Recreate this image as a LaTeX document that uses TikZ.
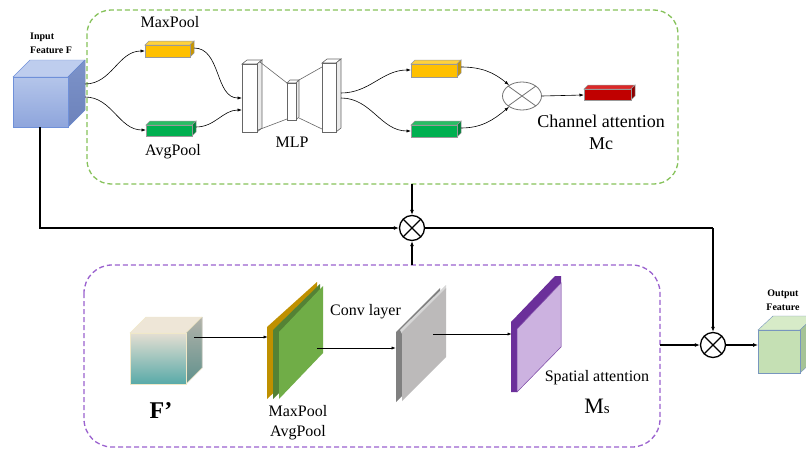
\documentclass[tikz,border=0pt]{standalone}
\usepackage{fontspec}
\setmainfont{Liberation Serif}
\usetikzlibrary{arrows.meta,shapes.geometric}
\definecolor{gdash}{HTML}{86C25A}
\definecolor{pdash}{HTML}{9B62CF}
\definecolor{cubeB}{HTML}{6F90D9}
\definecolor{yelF}{RGB}{255,192,0}
\definecolor{yelT}{RGB}{255,210,60}
\definecolor{yelS}{RGB}{200,150,0}
\definecolor{grnF}{RGB}{0,176,80}
\definecolor{grnT}{RGB}{40,190,100}
\definecolor{grnS}{RGB}{0,130,60}
\definecolor{redF}{RGB}{192,0,0}
\definecolor{redT}{RGB}{220,40,40}
\definecolor{redS}{RGB}{140,0,0}
\definecolor{fEdge}{RGB}{240,232,200}
\definecolor{fTop}{RGB}{238,230,215}
\definecolor{fSideA}{RGB}{178,178,170}
\definecolor{fSideB}{RGB}{95,145,140}
\definecolor{fFrontA}{RGB}{228,222,210}
\definecolor{fFrontB}{RGB}{88,170,168}
\definecolor{plOr}{RGB}{191,144,0}
\definecolor{plDg}{RGB}{84,130,53}
\definecolor{plLg}{RGB}{112,173,71}
\definecolor{cvD}{RGB}{128,128,128}
\definecolor{cvT}{RGB}{215,215,215}
\definecolor{cvF}{RGB}{188,186,186}
\definecolor{spD}{RGB}{107,47,154}
\definecolor{spE}{RGB}{130,80,170}
\definecolor{spF}{RGB}{204,178,224}
\definecolor{oEdge}{RGB}{120,150,190}
\definecolor{oT}{RGB}{215,235,200}
\definecolor{oS}{RGB}{165,195,150}
\definecolor{oF}{RGB}{197,224,180}
\definecolor{inT}{RGB}{190,205,238}
\definecolor{inFA}{RGB}{180,197,234}
\definecolor{inFB}{RGB}{142,165,220}
\definecolor{inSA}{RGB}{125,147,201}
\definecolor{inSB}{RGB}{108,130,187}
\begin{document}
\begin{tikzpicture}[x=1pt,y=-1pt,
  lbl/.style={font=\fontsize{16}{18}\selectfont, inner sep=0},
  big/.style={font=\fontsize{18}{21}\selectfont, inner sep=0},
  smallbold/.style={font=\bfseries\fontsize{10}{12.5}\selectfont, inner sep=0},
  thinarrow/.style={-{Latex[length=4.5pt,width=3.2pt]}, line width=0.6pt},
  thickline/.style={line width=1.3pt},
  thickarrow/.style={-{Latex[length=5pt,width=4pt]}, line width=1.3pt},
  mult/.style={circle, draw, line width=1.3pt, minimum size=25pt, inner sep=0pt,
    path picture={\draw[line width=1.3pt] (path picture bounding box.north west)--(path picture bounding box.south east)
      (path picture bounding box.north east)--(path picture bounding box.south west);}},
  multgray/.style={ellipse, draw=black!55, line width=0.8pt, minimum width=39pt, minimum height=28pt, inner sep=0pt,
    path picture={\draw[black!55,line width=0.8pt] (path picture bounding box.north west)--(path picture bounding box.south east)
      (path picture bounding box.north east)--(path picture bounding box.south west);}},
  mlpbox/.style={fill=white, draw=black!60, line width=0.6pt},
  dashbox/.style={dashed, dash pattern=on 5pt off 3pt, line width=1.3pt},
  baredge/.style={draw=black!40, line width=0.5pt},
]
\clip (0,0) rectangle (806,455);
\fill[white] (0,0) rectangle (806,455);

% ---------- dashed frames ----------
\draw[dashbox, gdash, rounded corners=24pt] (87,10) rectangle (678,184);
\draw[dashbox, pdash, rounded corners=28pt] (84,265) rectangle (660,447);

% ---------- input cube ----------
\filldraw[draw=cubeB, fill=inT] (13,77)--(30,60)--(85,60)--(68,77)--cycle;
\filldraw[draw=cubeB, top color=inSA, bottom color=inSB] (68,77)--(85,60)--(85,110)--(68,127)--cycle;
\filldraw[draw=cubeB, top color=inFA, bottom color=inFB] (13,77) rectangle (68,127);
\node[smallbold, anchor=west] at (30,37) {Input};
\node[smallbold, anchor=west] at (30,50) {Feature F};
\coordinate (inA) at (85,84);
\coordinate (inB) at (85,97);
\coordinate (inBot) at (40,127);

% ---------- pooled bars (top left) ----------
\filldraw[baredge, fill=yelT] (145,45)--(149,41)--(194,41)--(190,45)--cycle;
\filldraw[baredge, fill=yelS] (190,45)--(194,41)--(194,53)--(190,57)--cycle;
\filldraw[baredge, fill=yelF] (145,45) rectangle (190,57);
\node[lbl] at (170,22) {MaxPool};
\coordinate (mpL) at (145,51);
\coordinate (mpR) at (194,48);
\filldraw[baredge, fill=grnT] (146,125)--(150,121)--(196,121)--(192,125)--cycle;
\filldraw[baredge, fill=grnS] (192,125)--(196,121)--(196,132)--(192,136)--cycle;
\filldraw[baredge, fill=grnF] (146,125) rectangle (192,136);
\node[lbl] at (173,152) {AvgPool};
\coordinate (apL) at (146,130);
\coordinate (apR) at (196,127);

% ---------- MLP ----------
\filldraw[mlpbox] (242,64)--(247,60)--(262,60)--(257,64)--cycle;
\filldraw[mlpbox, fill=black!8] (257,64)--(262,60)--(262,128)--(257,132)--cycle;
\filldraw[mlpbox] (242,64) rectangle (257,132);
\filldraw[mlpbox] (287,83)--(290,80)--(299,80)--(296,83)--cycle;
\filldraw[mlpbox, fill=black!8] (296,83)--(299,80)--(299,117)--(296,120)--cycle;
\filldraw[mlpbox] (287,83) rectangle (296,120);
\filldraw[mlpbox] (322,63)--(327,59)--(341,59)--(336,63)--cycle;
\filldraw[mlpbox, fill=black!8] (336,63)--(341,59)--(341,128)--(336,132)--cycle;
\filldraw[mlpbox] (322,63) rectangle (336,132);
\draw[black!60, line width=0.6pt] (260,62)--(287,83) (258,130)--(287,119)
  (299,80)--(322,67) (299,118)--(322,129);
\node[lbl] at (292,142) {MLP};
\coordinate (mlpA) at (242,98);
\coordinate (mlpB) at (242,110);
\coordinate (mlpO1) at (341,93);
\coordinate (mlpO2) at (341,98);

% ---------- bars (top right) ----------
\filldraw[baredge, fill=yelT] (411,64)--(415,60)--(461,60)--(457,64)--cycle;
\filldraw[baredge, fill=yelS] (457,64)--(461,60)--(461,73)--(457,77)--cycle;
\filldraw[baredge, fill=yelF] (411,64) rectangle (457,77);
\coordinate (y2L) at (411,70);
\coordinate (y2R) at (461,67);
\filldraw[baredge, fill=grnT] (411,125)--(415,121)--(461,121)--(457,125)--cycle;
\filldraw[baredge, fill=grnS] (457,125)--(461,121)--(461,133)--(457,137)--cycle;
\filldraw[baredge, fill=grnF] (411,125) rectangle (457,137);
\coordinate (g2L) at (411,131);
\coordinate (g2R) at (461,128);

\node[multgray] (xc) at (522,96) {};

\filldraw[baredge, fill=redT] (584,89)--(588,85)--(635,85)--(631,89)--cycle;
\filldraw[baredge, fill=redS] (631,89)--(635,85)--(635,96)--(631,100)--cycle;
\filldraw[baredge, fill=redF] (584,89) rectangle (631,100);
\coordinate (redL) at (584,95);
\node[big] at (601,121) {Channel attention};
\node[big] at (601,144) {Mc};

% top connectors
\draw[thinarrow] (inA) to[out=0,in=180] (mpL);
\draw[thinarrow] (inB) to[out=0,in=180] (apL);
\draw[thinarrow] (mpR) to[out=0,in=180] (mlpA);
\draw[thinarrow] (apR) to[out=0,in=180] (mlpB);
\draw[thinarrow] (mlpO1) to[out=0,in=180] (y2L);
\draw[thinarrow] (mlpO2) to[out=0,in=180] (g2L);
\draw[thinarrow] (y2R) to[out=0,in=140] (xc.140);
\draw[thinarrow] (g2R) to[out=0,in=220] (xc.220);
\draw[thinarrow] (xc.east) -- (redL);

% ---------- middle multiply ----------
\node[mult] (x1) at (412,228) {};
\coordinate (gBot) at (412,184);
\coordinate (pTop) at (412,265);
\coordinate (rTurn) at (713,228);
\draw[thickarrow] (inBot) |- (x1.west);
\draw[thickarrow] (gBot) -- (x1.north);
\draw[thickarrow] (pTop) -- (x1.south);

% ---------- F' cube ----------
\filldraw[draw=fEdge, fill=fTop] (130,333)--(146,317)--(202,317)--(186,333)--cycle;
\filldraw[draw=fEdge, top color=fSideA, bottom color=fSideB] (186,333)--(202,317)--(202,368)--(186,384)--cycle;
\filldraw[draw=fEdge, top color=fFrontA, bottom color=fFrontB] (130,333) rectangle (186,384);
\node[font=\bfseries\fontsize{24}{26}\selectfont, inner sep=0] at (161,411) {F’};
\coordinate (fOut) at (194,337);

% ---------- MaxPool/AvgPool planes ----------
\fill[plOr] (267,327)--(317,282)--(317,352)--(267,399)--cycle;
\fill[plDg] (273,330)--(320,284)--(320,353)--(273,399)--cycle;
\fill[plLg] (279,332)--(323,286)--(323,353)--(279,399)--cycle;
\coordinate (gpL) at (268,337);
\coordinate (gpC) at (317,348);
\node[lbl, align=center, font=\fontsize{16}{20}\selectfont] at (298,423) {MaxPool\\AvgPool};
\node[lbl, anchor=west] at (330,312) {Conv layer};

% ---------- conv plane ----------
\fill[cvD] (396,332)--(440,288)--(440,358)--(396,402)--cycle;
\fill[cvT] (400,330)--(446,285)--(446,290)--(402,334)--cycle;
\fill[cvF] (402,332)--(446,288)--(446,357)--(402,401)--cycle;
\coordinate (cvL) at (396,348);
\coordinate (cvC) at (433,334);

% ---------- spatial attention plane ----------
\fill[spD] (511,322)--(555,276)--(561,276)--(561,347)--(517,392)--(511,392)--cycle;
\filldraw[draw=spE, line width=0.5pt, fill=spF] (517,329)--(561,283)--(561,347)--(517,392)--cycle;
\coordinate (spL) at (512,334);
\node[lbl] at (597,378) {Spatial attention};
\node[inner sep=0] at (597,406) {{\fontsize{22}{24}\selectfont M}{\fontsize{15}{16}\selectfont s}};

% bottom connectors
\draw[thinarrow, line width=0.9pt] (fOut) -- (gpL);
\draw[thinarrow, line width=0.9pt] (gpC) -- (cvL);
\draw[thinarrow, line width=0.9pt] (cvC) -- (spL);

% ---------- output ----------
\node[mult] (x2) at (713,345) {};
\coordinate (pRight) at (660,345);
\draw[thickline] (x1.east) -- (rTurn);
\draw[thickarrow] (rTurn) -- (x2.north);
\draw[thickarrow] (pRight) -- (x2.west);

\filldraw[draw=oEdge, fill=oT] (758,330)--(773,316)--(815,316)--(800,330)--cycle;
\filldraw[draw=oEdge, fill=oS] (800,330)--(815,316)--(815,359)--(800,373)--cycle;
\filldraw[draw=oEdge, fill=oF] (758,330) rectangle (800,373);
\coordinate (outL) at (758,345);
\draw[thickarrow] (x2.east) -- (outL);
\node[smallbold] at (783,294) {Output};
\node[smallbold] at (783,307) {Feature};
\end{tikzpicture}
\end{document}
